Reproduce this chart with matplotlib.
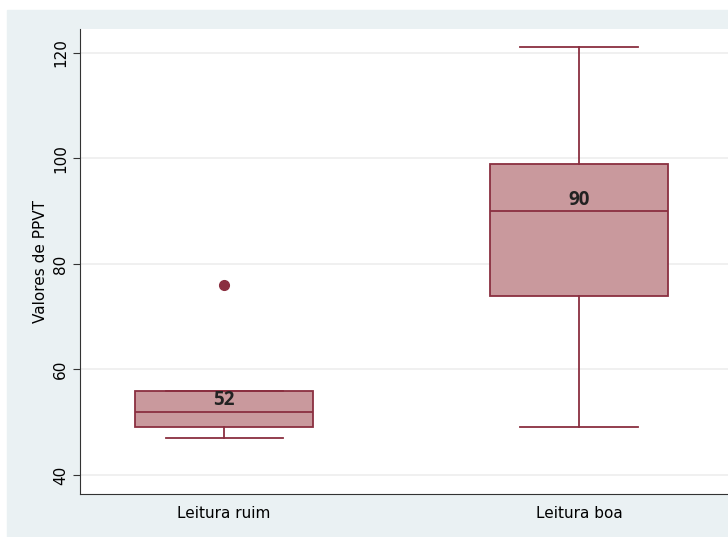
import matplotlib
matplotlib.use('Agg')
import matplotlib.pyplot as plt
from matplotlib.patches import Rectangle

# Dados
grupos = ['Leitura ruim', 'Leitura boa']
q1 = [49, 74]
mediana = [52, 90]
q3 = [56, 99]
bigode_inf = [47, 49]
bigode_sup = [56, 121]
outliers = [[76], []]

cor_fundo = '#eaf1f3'
cor_caixa = '#c9999d'
cor_borda = '#8a2f40'

fig = plt.figure(figsize=(7.28, 5.37), dpi=100)
fundo = Rectangle((7 / 728, 0), 1, (537 - 10) / 537,
                  transform=fig.transFigure, color=cor_fundo, zorder=-10)
fig.add_artist(fundo)
ax = fig.add_axes([80 / 728, (537 - 494) / 537, 648 / 728, (494 - 29) / 537])
ax.set_zorder(1)
ax.set_facecolor('white')

stats = []
for i in range(len(grupos)):
    stats.append({'med': mediana[i], 'q1': q1[i], 'q3': q3[i],
                  'whislo': bigode_inf[i], 'whishi': bigode_sup[i],
                  'fliers': outliers[i], 'label': grupos[i]})

ax.bxp(stats, positions=[1, 2], widths=0.5, patch_artist=True,
       boxprops=dict(facecolor=cor_caixa, edgecolor=cor_borda, linewidth=1.3),
       medianprops=dict(color=cor_borda, linewidth=1.3),
       whiskerprops=dict(color=cor_borda, linewidth=1.3),
       capprops=dict(color=cor_borda, linewidth=1.3),
       capwidths=0.33,
       flierprops=dict(marker='o', markerfacecolor=cor_borda, markeredgecolor=cor_borda,
                       markersize=7))

for i in range(len(grupos)):
    ax.text(i + 1, mediana[i] + 0.3, str(mediana[i]), ha='center', va='bottom',
            fontsize=13.5, fontweight='bold', family='Open Sans', color='#222222')

ax.set_xlim(0.594, 2.42)
ax.set_ylim(36.4, 124.5)
ax.set_yticks([40, 60, 80, 100, 120])
ax.set_yticklabels(['40', '60', '80', '100', '120'], rotation=90, va='center', fontsize=11)
ax.tick_params(axis='x', length=0, labelsize=11, pad=9)
ax.tick_params(axis='y', length=5, color='#333333')
ax.set_ylabel('Valores de PPVT', fontsize=11)

ax.grid(axis='y', color='#eeeeee', linewidth=1.2)
ax.set_axisbelow(True)
for s in ['top', 'right']:
    ax.spines[s].set_visible(False)
ax.spines['left'].set_color('#333333')
ax.spines['bottom'].set_color('#333333')

fig.savefig('out.png', dpi=100)
